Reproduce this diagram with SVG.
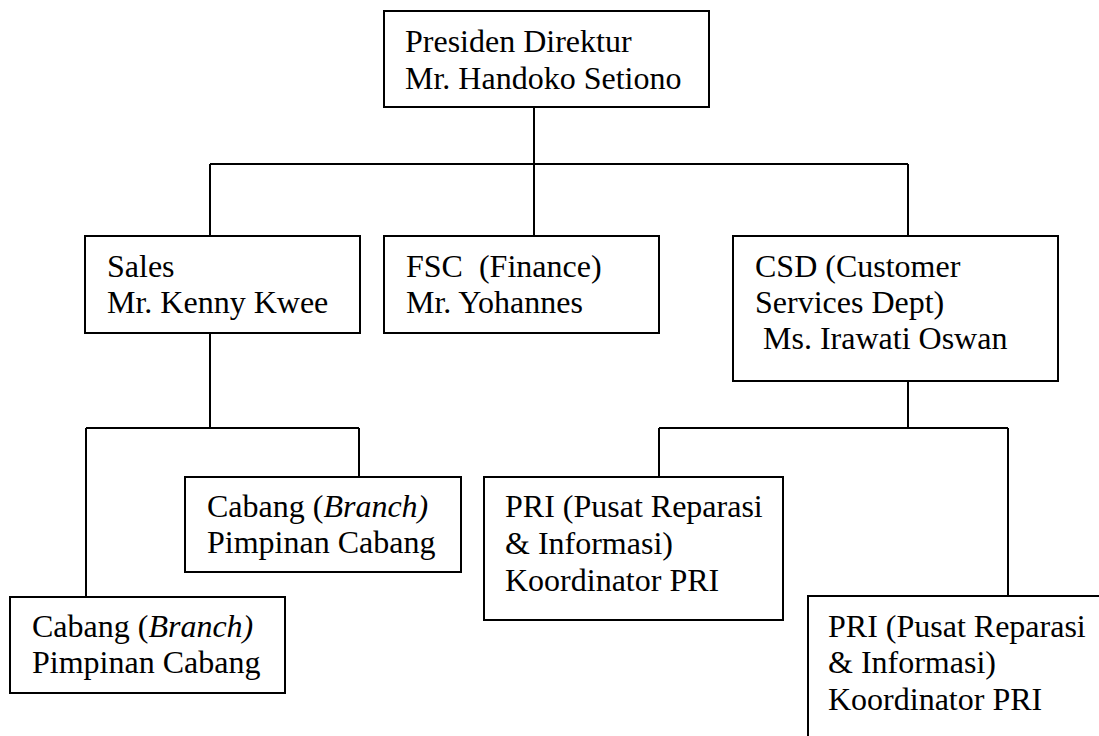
<svg xmlns="http://www.w3.org/2000/svg" width="1099" height="736" viewBox="0 0 1099 736">
  <style>
    .box { fill: #ffffff; stroke: #000000; stroke-width: 2; }
    .wire { fill: none; stroke: #000000; stroke-width: 2; }
    text { font-family: "Liberation Serif", "Times New Roman", serif; font-size: 32px; fill: #000000; white-space: pre; }
    .it { font-style: italic; }
  </style>
  <rect width="1099" height="736" fill="#ffffff"/>

  <!-- connectors -->
  <g id="connectors" class="wire">
    <path d="M534 107 V164 M210 164 H908 M210 164 V236 M534 164 V236 M908 164 V236"/>
    <path d="M210 333 V428 M86 428 H359 M86 428 V597 M359 428 V477"/>
    <path d="M908 381 V428 M659 428 H1008 M659 428 V477 M1008 428 V596"/>
  </g>

  <g id="presiden">
    <rect class="box" x="384" y="11" width="325" height="96"/>
    <text x="405" y="52">Presiden Direktur</text>
    <text x="405" y="89">Mr. Handoko Setiono</text>
  </g>

  <g id="sales">
    <rect class="box" x="85" y="236" width="275" height="97"/>
    <text x="107" y="277">Sales</text>
    <text x="107" y="313">Mr. Kenny Kwee</text>
  </g>

  <g id="fsc">
    <rect class="box" x="384" y="236" width="275" height="97"/>
    <text x="406" y="277">FSC  (Finance)</text>
    <text x="406" y="313">Mr. Yohannes</text>
  </g>

  <g id="csd">
    <rect class="box" x="733" y="236" width="325" height="145"/>
    <text x="755" y="277">CSD (Customer</text>
    <text x="755" y="313">Services Dept)</text>
    <text x="755" y="349"> Ms. Irawati Oswan</text>
  </g>

  <g id="cabang-1">
    <rect class="box" x="185" y="477" width="276" height="95"/>
    <text x="207" y="517">Cabang (<tspan class="it">Branch)</tspan></text>
    <text x="207" y="553">Pimpinan Cabang</text>
  </g>

  <g id="cabang-2">
    <rect class="box" x="10" y="597" width="275" height="96"/>
    <text x="32" y="637">Cabang (<tspan class="it">Branch)</tspan></text>
    <text x="32" y="673">Pimpinan Cabang</text>
  </g>

  <g id="pri-1">
    <rect class="box" x="484" y="477" width="299" height="143"/>
    <text x="505" y="517">PRI (Pusat Reparasi</text>
    <text x="505" y="554">&amp; Informasi)</text>
    <text x="505" y="591">Koordinator PRI</text>
  </g>

  <g id="pri-2">
    <rect class="box" x="808" y="596" width="310" height="160"/>
    <text x="828" y="637">PRI (Pusat Reparasi</text>
    <text x="828" y="673">&amp; Informasi)</text>
    <text x="828" y="710">Koordinator PRI</text>
  </g>
</svg>
